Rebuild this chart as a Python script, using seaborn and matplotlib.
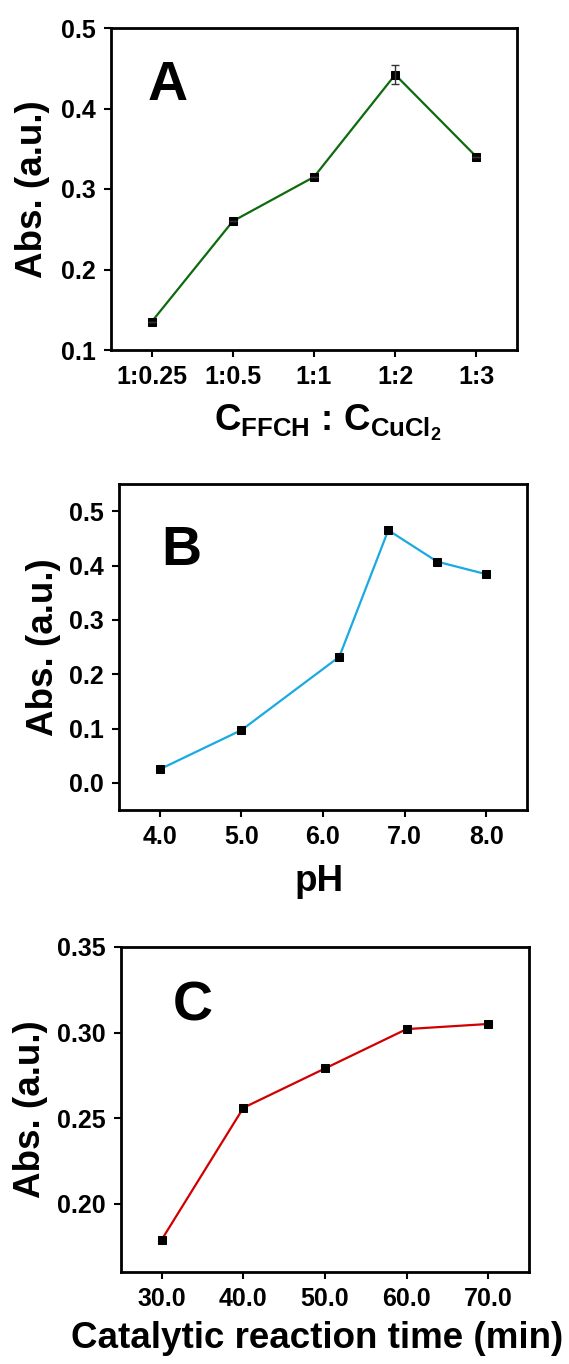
import numpy as np
import pandas as pd
import matplotlib
matplotlib.use("Agg")
import matplotlib.pyplot as plt
import seaborn as sns

# ---- data ----
ratio_labels = ["1:0.25", "1:0.5", "1:1", "1:2", "1:3"]
ratio_abs = [0.135, 0.260, 0.315, 0.442, 0.340]
ratio_err = [0.0, 0.0, 0.0, 0.012, 0.0]

ph_values = [4.0, 5.0, 6.2, 6.8, 7.4, 8.0]
ph_abs = [0.025, 0.097, 0.232, 0.465, 0.407, 0.384]
ph_ticks = [4.0, 5.0, 6.0, 7.0, 8.0]

time_values = [30, 40, 50, 60, 70]
time_abs = [0.179, 0.256, 0.279, 0.302, 0.305]
time_ticks = [30.0, 40.0, 50.0, 60.0, 70.0]

sns.set_theme(style="ticks")
plt.rcParams["font.family"] = ["Liberation Sans", "DejaVu Sans"]
plt.rcParams["font.weight"] = "bold"
plt.rcParams["text.color"] = "black"
plt.rcParams["axes.labelcolor"] = "black"
plt.rcParams["xtick.color"] = "black"
plt.rcParams["ytick.color"] = "black"
plt.rcParams["mathtext.fontset"] = "custom"
plt.rcParams["mathtext.rm"] = "Liberation Sans:bold"
plt.rcParams["mathtext.bf"] = "Liberation Sans:bold"
plt.rcParams["mathtext.it"] = "Liberation Sans:bold"

W, H = 569, 1364
fig = plt.figure(figsize=(W / 100, H / 100), dpi=100)

def px_axes(l, r, t, b):
    return fig.add_axes([l / W, 1 - b / H, (r - l) / W, (b - t) / H])

axA = px_axes(111, 517, 28, 350)
axB = px_axes(119, 527, 484, 810)
axC = px_axes(121, 529, 947, 1272)

TICK_FS = 18
LAB_FS = 26.5
LET_FS = 40

def style(ax):
    for s in ax.spines.values():
        s.set_linewidth(2.0)
        s.set_color("black")
    ax.tick_params(axis="both", which="both", direction="out", length=5, width=1.5,
                   labelsize=TICK_FS, color="black", labelcolor="black",
                   top=False, right=False, pad=6)
    for lab in ax.get_xticklabels() + ax.get_yticklabels():
        lab.set_fontweight("bold")

mk = dict(marker="s", markersize=6, markerfacecolor="black", markeredgecolor="black")

# Panel A
dfA = pd.DataFrame({"pos": np.arange(len(ratio_labels)), "abs": ratio_abs})
sns.lineplot(data=dfA, x="pos", y="abs", ax=axA, color="#0d6b0d", linewidth=1.6, **mk)
axA.errorbar(dfA["pos"], dfA["abs"], yerr=ratio_err, fmt="none", ecolor="#333333",
             elinewidth=1.0, capsize=3, capthick=1.0)
axA.set_xlim(-0.5, len(ratio_labels) - 0.5)
axA.set_ylim(0.1, 0.5)
axA.set_xticks(dfA["pos"])
axA.set_xticklabels(ratio_labels)
axA.set_yticks([0.1, 0.2, 0.3, 0.4, 0.5])
axA.set_yticklabels(["0.1", "0.2", "0.3", "0.4", "0.5"])
axA.set_ylabel("Abs. (a.u.)", fontsize=LAB_FS, fontweight="bold")
axA.yaxis.set_label_coords(-0.15, 0.5)
axA.set_xlabel(r"$\mathbf{C_{FFCH}}$ : $\mathbf{C_{CuCl_2}}$", fontsize=LAB_FS, fontweight="bold")
axA.xaxis.set_label_coords(0.535, -0.165)
axA.text(0.09, 0.776, "A", transform=axA.transAxes, fontsize=LET_FS, fontweight="bold")
style(axA)

# Panel B
dfB = pd.DataFrame({"ph": ph_values, "abs": ph_abs})
sns.lineplot(data=dfB, x="ph", y="abs", ax=axB, color="#1aaae2", linewidth=1.6, **mk)
axB.set_xlim(3.5, 8.5)
axB.set_ylim(-0.05, 0.55)
axB.set_xticks(ph_ticks)
axB.set_xticklabels([f"{v:.1f}" for v in ph_ticks])
axB.set_yticks([0.0, 0.1, 0.2, 0.3, 0.4, 0.5])
axB.set_yticklabels([f"{v:.1f}" for v in [0.0, 0.1, 0.2, 0.3, 0.4, 0.5]])
axB.set_ylabel("Abs. (a.u.)", fontsize=LAB_FS, fontweight="bold")
axB.yaxis.set_label_coords(-0.142, 0.5)
axB.set_xlabel("pH", fontsize=LAB_FS, fontweight="bold")
axB.xaxis.set_label_coords(0.49, -0.165)
axB.text(0.103, 0.752, "B", transform=axB.transAxes, fontsize=LET_FS, fontweight="bold")
style(axB)

# Panel C
dfC = pd.DataFrame({"t": time_values, "abs": time_abs})
sns.lineplot(data=dfC, x="t", y="abs", ax=axC, color="#d00000", linewidth=1.6, **mk)
axC.set_xlim(25, 75)
axC.set_ylim(0.16, 0.35)
axC.set_xticks(time_ticks)
axC.set_xticklabels([f"{v:.1f}" for v in time_ticks])
axC.set_yticks([0.20, 0.25, 0.30, 0.35])
axC.set_yticklabels([f"{v:.2f}" for v in [0.20, 0.25, 0.30, 0.35]])
axC.set_ylabel("Abs. (a.u.)", fontsize=LAB_FS, fontweight="bold")
axC.yaxis.set_label_coords(-0.179, 0.5)
axC.set_xlabel("Catalytic reaction time (min)", fontsize=LAB_FS, fontweight="bold")
axC.xaxis.set_label_coords(0.48, -0.15)
axC.text(0.127, 0.775, "C", transform=axC.transAxes, fontsize=LET_FS, fontweight="bold")
style(axC)

fig.savefig("out.png", dpi=100, facecolor="white")
